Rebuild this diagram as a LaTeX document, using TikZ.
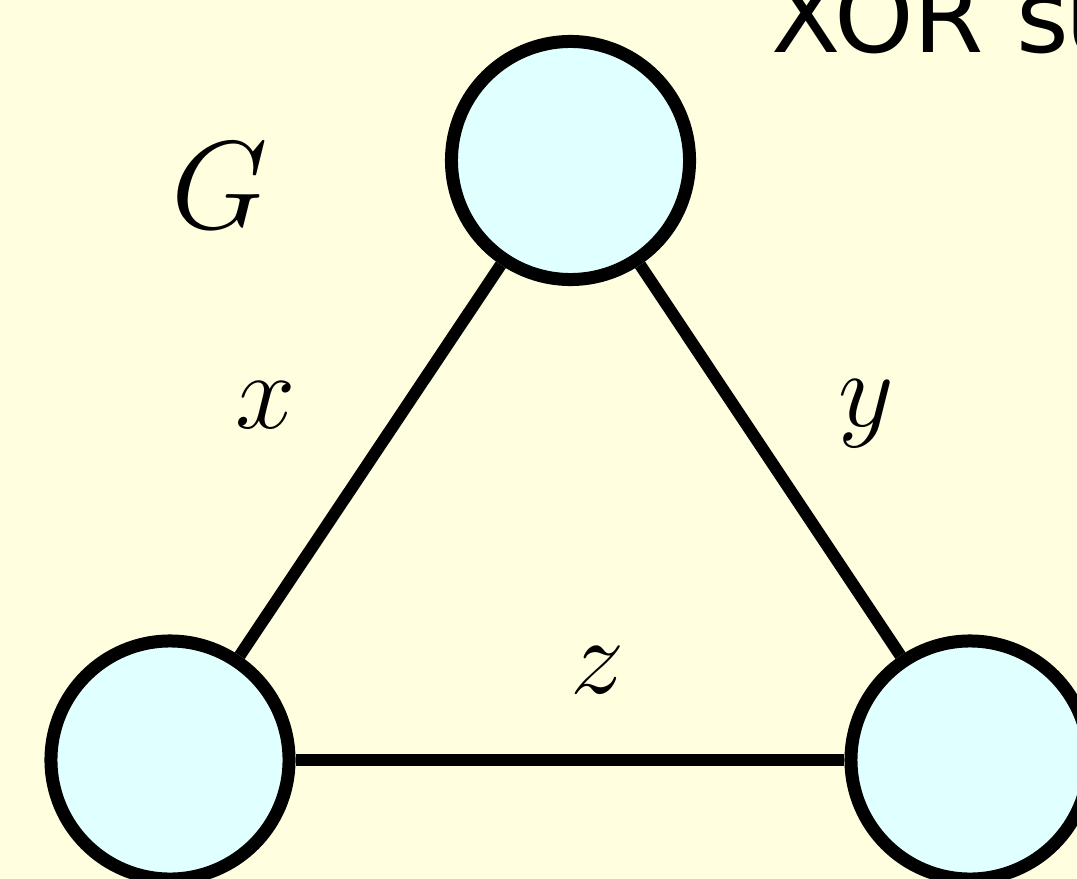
\RequirePackage{fix-cm}
\documentclass[tikz,border=0pt]{standalone}
\usepackage{fontspec}
\newfontfamily\dejavu{DejaVu Sans}
\definecolor{bgyellow}{RGB}{255,255,224}
\definecolor{nodecyan}{RGB}{224,255,255}
\begin{document}
\begin{tikzpicture}[x=0.025cm,y=-0.025cm,
  vertex/.style={circle,draw=black,fill=nodecyan,line width=0.325cm,inner sep=0pt,minimum size=5.95cm},
  edge/.style={draw=black,line width=0.3cm},
  mlabel/.style={inner sep=0pt,font=\fontsize{77}{90}\selectfont},
  glabel/.style={inner sep=0pt,font=\fontsize{89}{100}\selectfont},
  title/.style={inner sep=0pt,anchor=base west,font=\dejavu\fontsize{72}{80}\selectfont}]
\fill[bgyellow] (0,0) rectangle (1077,879);
\useasboundingbox (0,0) rectangle (1077,879);
\node[vertex] (top) at (570.5,160.5) {};
\node[vertex] (left) at (170,760) {};
\node[vertex] (right) at (970,760) {};
\draw[edge] (top) -- (left);
\draw[edge] (top) -- (right);
\draw[edge] (left) -- (right);
\node[glabel] (G) at (220,186) {$G$};
\node[mlabel] (lx) at (266,405) {$x$};
\node[mlabel] (ly) at (866,414) {$y$};
\node[mlabel] (lz) at (598,670) {$z$};
\node[title] (xor) at (771,53) {XOR s\kern-3pt u};
\end{tikzpicture}
\end{document}
